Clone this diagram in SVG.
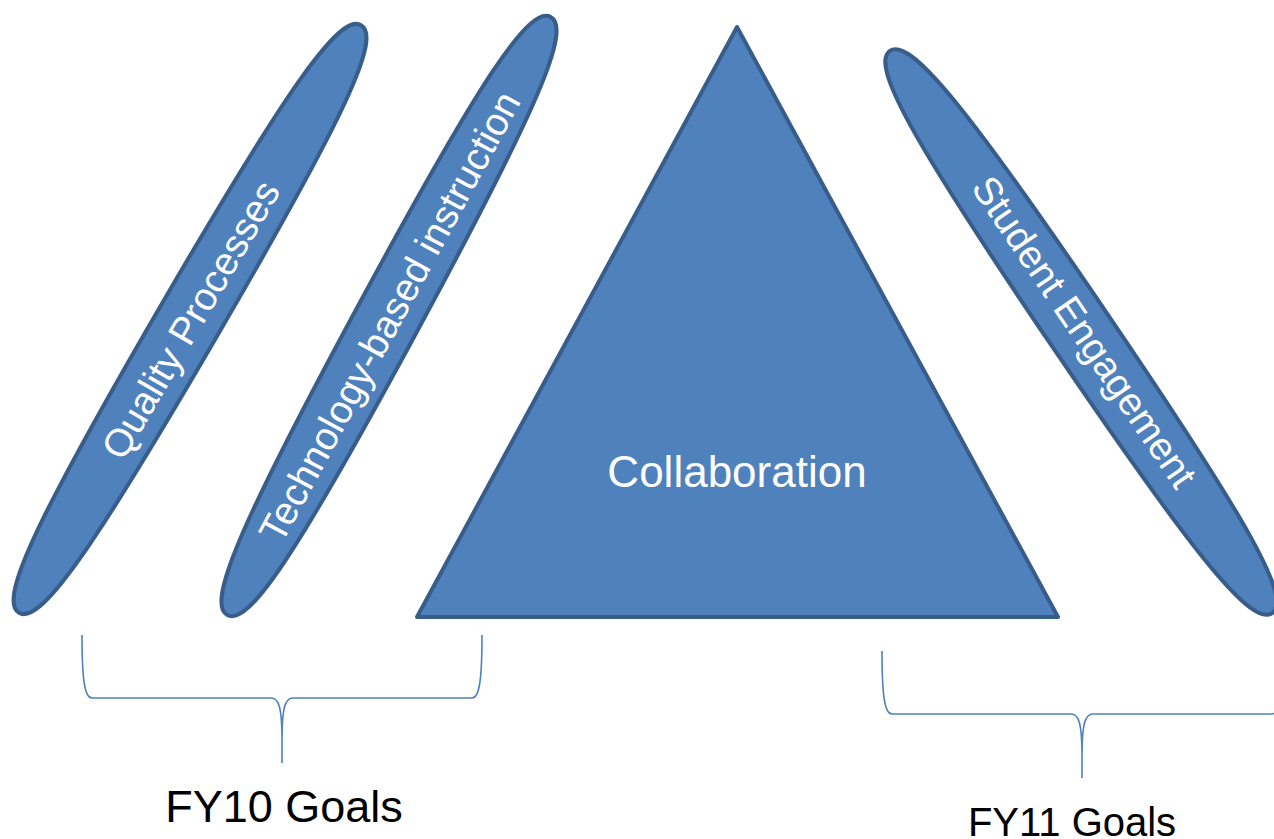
<svg xmlns="http://www.w3.org/2000/svg" width="1274" height="839" viewBox="0 0 1274 839">
<style>
.shape{fill:#4F81BD;stroke:#385D8A;stroke-width:4;stroke-linejoin:round}
.lbl{font-family:"Liberation Sans",Arial,sans-serif;fill:#FFFFFF;text-anchor:middle}
.goal{font-family:"Liberation Sans",Arial,sans-serif;fill:#000000;text-anchor:middle}
.brace{fill:none;stroke:#4F81BD;stroke-width:1.6}
</style>
<defs>
<path id="pill" d="M340,0 C340,24 255,32 0,32 C-255,32 -340,24 -340,0 C-340,-24 -255,-32 0,-32 C255,-32 340,-24 340,0 Z"/>
</defs>
<rect width="1274" height="839" fill="#FFFFFF"/>
<g id="quality-processes">
<use href="#pill" class="shape" transform="translate(190 319) rotate(-59.8)"/>
<text class="lbl" font-size="39" transform="translate(191 320) rotate(-59.8)" x="0" y="13">Quality Processes</text>
</g>
<g id="technology-based-instruction">
<use href="#pill" class="shape" transform="translate(389 316) rotate(-61.6)"/>
<text class="lbl" font-size="39" transform="translate(390 317) rotate(-61.6)" x="0" y="13">Technology-based instruction</text>
</g>
<g id="collaboration">
<polygon class="shape" points="737,27 1058,617 417,617"/>
<text class="lbl" font-size="44" x="737" y="487">Collaboration</text>
</g>
<g id="student-engagement">
<use href="#pill" class="shape" transform="translate(1081 332) rotate(55.8)"/>
<text class="lbl" font-size="39" transform="translate(1084 332) rotate(55.8)" x="0" y="13">Student Engagement</text>
</g>
<g id="connectors">
<path class="brace" d="M82,635 C82,682 85,698 92,698 L271,698 C279,698 282,708 282,740 L282,763 M282,740 C282,708 285,698 293,698 L472,698 C479,698 482,682 482,635"/>
<path class="brace" d="M882,651 C882,698 885,714 892,714 L1071,714 C1079,714 1082,724 1082,756 L1082,778 M1082,756 C1082,724 1085,714 1093,714 L1272,714 C1279,714 1282,698 1282,651"/>
</g>
<g id="fy10-goals">
<text class="goal" font-size="45" x="284" y="822">FY10 Goals</text>
</g>
<g id="fy11-goals">
<text class="goal" font-size="40" x="1072" y="836">FY11 Goals</text>
</g>
</svg>
